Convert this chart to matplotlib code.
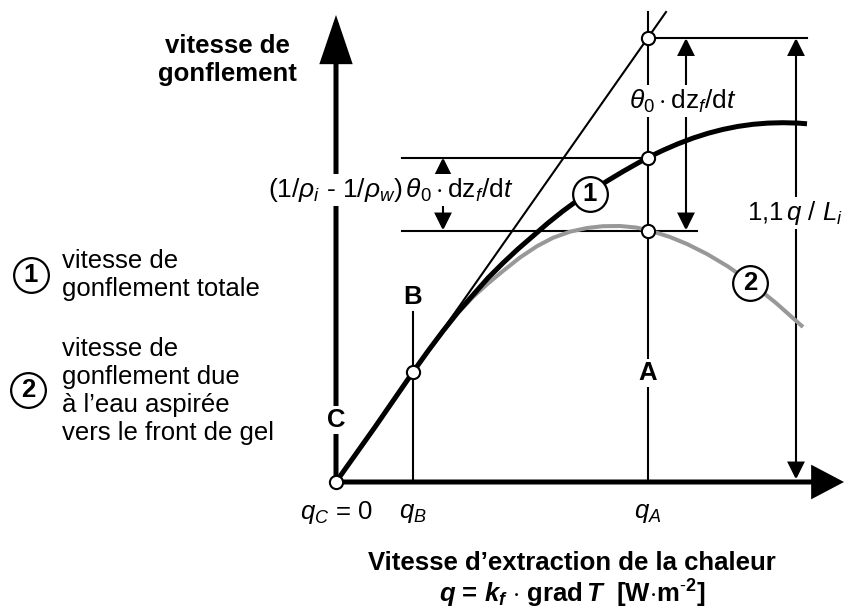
import matplotlib
matplotlib.use('Agg')
import matplotlib.pyplot as plt
from matplotlib.patches import FancyArrowPatch

plt.rcParams['font.family'] = ['Liberation Sans', 'DejaVu Sans']
plt.rcParams['mathtext.fontset'] = 'custom'
plt.rcParams['mathtext.rm'] = 'Liberation Sans'
plt.rcParams['mathtext.it'] = 'Liberation Sans:italic'
plt.rcParams['mathtext.bf'] = 'Liberation Sans:bold'
plt.rcParams['mathtext.bfit'] = 'Liberation Sans:bold:italic'

# diagram units: origin at point C (q = 0)
curve1_q = [0, 39, 77, 92, 107, 122, 137, 152, 167, 182, 197, 212, 227, 242,
            257, 272, 287, 302, 312, 327, 342, 357, 372, 387, 402, 417, 432,
            447, 462, 471]
curve1_v = [0, 55, 110, 131, 151, 170, 187, 204, 219, 233, 246, 259, 271,
            282, 292, 301.5, 310.5, 319, 324.5, 331.7, 338.2, 343.9, 348.7,
            352.6, 355.6, 357.7, 358.9, 359.3, 358.9, 358.2]

curve2_q = [0, 39, 77, 92, 107, 122, 137, 152, 167, 184, 201, 217, 234, 251,
            267, 284, 300, 312, 334, 351, 371, 392, 414, 440, 467]
curve2_v = [0, 54.5, 109.5, 130.5, 150.5, 169, 185, 198.5, 211, 224.5, 235.8,
            244.2, 250.3, 254, 255.8, 256, 254.5, 252, 245, 238, 228, 215.5,
            200, 179, 155]

tangent_q = [0, 330]
tangent_v = [0, 470]

q_C, q_B, q_A = 0, 77, 312
v_B = 110
v_A_top, v_A_mid, v_A_low = 444, 324.5, 251.5

points_q = [q_C, q_B, q_A, q_A, q_A]
points_v = [0, v_B, v_A_top, v_A_mid, v_A_low]

FS = 18.5


def arrow(ax, p0, p1, style, lw, hl, hw, z=2):
    ax.add_patch(FancyArrowPatch(
        p0, p1, arrowstyle=f'{style},head_length={hl},head_width={hw}',
        mutation_scale=1, lw=lw, color='black', shrinkA=0, shrinkB=0,
        joinstyle='miter', capstyle='butt', zorder=z, clip_on=False))


def circled(ax, x, y, label):
    ax.plot([x], [y], 'o', ms=25, mfc='white', mec='black', mew=1.6,
            zorder=7, clip_on=False)
    ax.text(x, y, label, fontsize=FS, fontweight='bold', ha='center',
            va='center', zorder=8)


fig = plt.figure(figsize=(8.44, 6.12), dpi=100)
ax = fig.add_axes([0, 0, 1, 1])
ax.set_xlim(-336, 508)
ax.set_ylim(-130, 482)
ax.axis('off')

white = dict(facecolor='white', edgecolor='none', pad=1.5)

# axes
arrow(ax, (0, 0), (0, 467), '-|>', 3.6, 28, 9.5)
arrow(ax, (0, 0), (508, 0), '-|>', 3.6, 18, 9.5)

# curves
ax.plot(curve2_q, curve2_v, color='#989898', lw=2.9, zorder=3,
        solid_capstyle='butt', solid_joinstyle='round')
ax.plot(curve1_q, curve1_v, color='black', lw=3.6, zorder=4,
        solid_capstyle='butt', solid_joinstyle='round')
ax.plot(tangent_q, tangent_v, color='black', lw=1.5, zorder=4)

# construction lines
ax.plot([q_A, q_A], [0, 470], color='black', lw=1.5, zorder=2)
ax.plot([q_B, q_B], [0, 170], color='black', lw=1.5, zorder=2)
ax.plot([q_A, 471], [v_A_top, v_A_top], color='black', lw=1.5, zorder=2)
ax.plot([66, q_A], [v_A_mid, v_A_mid], color='black', lw=1.5, zorder=2)
ax.plot([66, 361], [v_A_low, v_A_low], color='black', lw=1.5, zorder=2)

# dimension arrows
arrow(ax, (107, v_A_mid), (107, v_A_low), '<|-|>', 1.5, 10.5, 5.2)
arrow(ax, (350, v_A_top), (350, v_A_low), '<|-|>', 1.5, 10.5, 5.2)
arrow(ax, (460, v_A_top), (460, 2.5), '<|-|>', 1.5, 10.5, 5.2)

ax.plot(points_q, points_v, 'o', ms=9.5, mfc='white', mec='black', mew=1.5,
        zorder=6, clip_on=False)

# labels on the diagram
ax.text(q_C, 62, 'C', fontsize=FS, fontweight='bold', ha='center',
        va='center', bbox=white, zorder=5)
ax.text(q_B, 185, 'B', fontsize=FS, fontweight='bold', ha='center',
        va='center', zorder=5)
ax.text(q_A, 109, 'A', fontsize=FS, fontweight='bold', ha='center',
        va='center', bbox=white, zorder=5)

ax.text(55, 292, r'$(1/\rho_{i}$ - $1/\rho_{w})\,\theta_{0}\cdot\mathrm{dz}_{f}/\mathrm{d}t$',
        fontsize=19, ha='center', va='center', bbox=white, zorder=5)
ax.text(347, 381, r'$\theta_{0}\cdot\mathrm{dz}_{f}/\mathrm{d}t$',
        fontsize=19, ha='center', va='center', bbox=white, zorder=5)
ax.text(459, 269, r'1,1$\,q$ / $L_{i}$', fontsize=FS, ha='center',
        va='center', bbox=white, zorder=5)

circled(ax, 254, 288, '1')
circled(ax, 414, 199, '2')

# labels under the q axis
ax.text(q_C, -31, r'$q_{C}$ = 0', fontsize=FS, ha='center', va='center')
ax.text(q_B, -31, r'$q_{B}$', fontsize=FS, ha='center', va='center')
ax.text(q_A, -31, r'$q_{A}$', fontsize=FS, ha='center', va='center')

ax.text(236, -81, 'Vitesse d\u2019extraction de la chaleur', fontsize=FS,
        fontweight='bold', ha='center', va='center')
ax.text(236, -112,
        r'$\mathbfit{q}$ = $\mathbfit{k}_{\mathbfit{f}}$ $\cdot$ grad$\,\mathbfit{T}$  [W$\cdot$m$^{\mathbf{\text{-}2}}$]',
        fontsize=FS, fontweight='bold', ha='center', va='center')

ax.text(-109, 422, 'vitesse de\ngonflement', fontsize=FS, fontweight='bold',
        ha='center', va='center')

# legend
circled(ax, -305, 207, '1')
ax.text(-274, 207, 'vitesse de\ngonflement totale', fontsize=FS,
        ha='left', va='center')
circled(ax, -308, 92, '2')
ax.text(-274, 91, 'vitesse de\ngonflement due\n\u00e0 l\u2019eau aspir\u00e9e\nvers le front de gel',
        fontsize=FS, ha='left', va='center')

fig.savefig('out.png', dpi=100)
